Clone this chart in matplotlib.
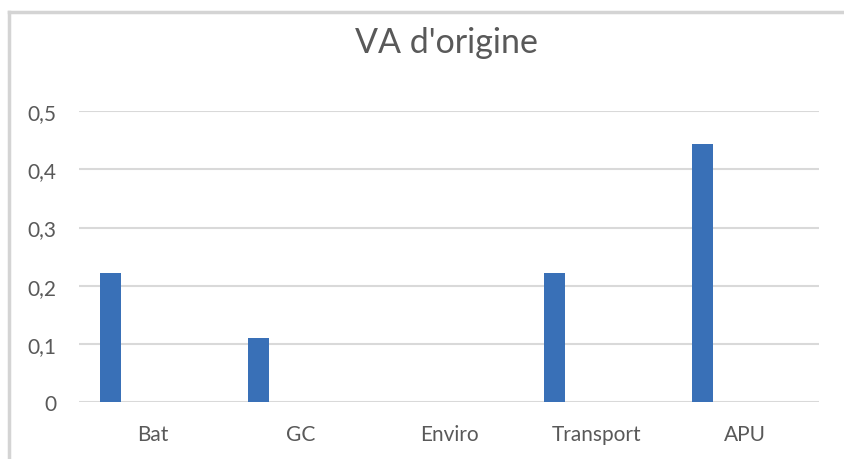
import matplotlib
matplotlib.use("Agg")
import matplotlib.pyplot as plt
from matplotlib.ticker import FuncFormatter
from matplotlib.lines import Line2D
import numpy as np

categories = ["Bat", "GC", "Enviro", "Transport", "APU"]
values = [0.222, 0.111, 0.0, 0.222, 0.444]
title = "VA d'origine"
yticks = [0, 0.1, 0.2, 0.3, 0.4, 0.5]

plt.rcParams['font.family'] = ['Lato', 'DejaVu Sans']
text_color = "#595959"
bar_color = "#3970b7"
grid_color = "#d9d9d9"

fig = plt.figure(figsize=(8.44, 4.6), dpi=100)
ax = fig.add_axes([79/844, 1-403.3/460, 740/844, (403.3-112)/460])

n_series = 5
w = 0.142
x = np.arange(len(categories))
ax.bar(x - 2*w, values, width=w, color=bar_color, zorder=3)

ax.set_xlim(-0.5, len(categories)-0.5)
ax.set_ylim(0, 0.5)
ax.set_yticks(yticks)
ax.yaxis.set_major_formatter(FuncFormatter(lambda v, p: "0" if v == 0 else f"{v:.1f}".replace(".", ",")))
ax.set_xticks(x)
ax.set_xticklabels(categories)
ax.tick_params(axis='both', length=0, colors=text_color, labelsize=15)
ax.tick_params(axis='x', pad=15.5)
ax.tick_params(axis='y', pad=16.5)
ax.grid(axis='y', color=grid_color, linewidth=1.5, zorder=0)
for s in ax.spines.values():
    s.set_visible(False)

fig.text(446/844, 1-43/460, title, ha='center', va='center', fontsize=24.5, color=text_color)

# chart border
fig.add_artist(Line2D([9/844, 1], [1-13/460, 1-13/460], color="#d4d4d4", linewidth=2.5, transform=fig.transFigure))
fig.add_artist(Line2D([9/844, 9/844], [0, 1-13/460], color="#d4d4d4", linewidth=2.5, transform=fig.transFigure))

fig.savefig("out.png", dpi=100)
